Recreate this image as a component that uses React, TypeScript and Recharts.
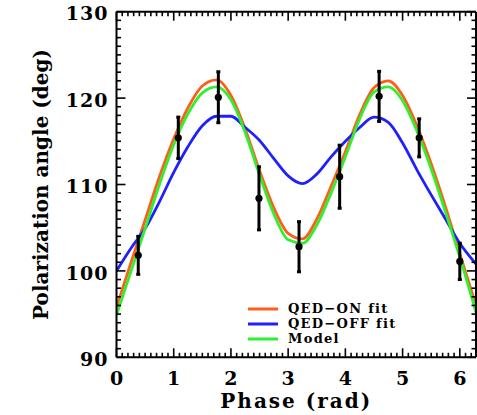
import React from 'react';
import { ComposedChart, Line, Scatter, ErrorBar, XAxis, YAxis, Legend } from 'recharts';

// model curves on a common phase grid (rad)
const phaseGrid = [0, 0.25, 0.5, 0.75, 1, 1.25, 1.5, 1.75, 2, 2.25, 2.5, 2.75, 3, 3.25, 3.5, 3.75, 4, 4.25, 4.5, 4.75, 5, 5.25, 5.5, 5.75, 6, 6.283];
const qedOnFit = [95.8, 100.9, 105.9, 110.9, 115.3, 118.9, 121.4, 122.1, 120.3, 116.4, 111.6, 107.3, 104.35, 103.7, 106.0, 109.8, 113.8, 118.1, 121.2, 122.0, 120.3, 116.8, 112.4, 107.4, 102.0, 96.0];
const qedOffFit = [100.0, 102.6, 104.9, 108.0, 111.4, 114.4, 116.8, 117.9, 117.9, 116.6, 115.1, 113.0, 111.0, 110.1, 111.2, 113.2, 115.0, 116.6, 117.8, 117.2, 114.8, 111.7, 108.8, 106.0, 103.2, 100.8];
const modelCurve = [94.9, 99.9, 104.9, 110.0, 114.6, 118.2, 120.6, 121.3, 119.8, 116.0, 111.1, 106.6, 103.6, 103.2, 105.3, 109.0, 113.2, 117.6, 120.7, 121.3, 119.7, 116.2, 111.8, 106.8, 101.6, 95.2];

// measured points
const obsPhase = [0.38, 1.08, 1.78, 2.49, 3.19, 3.9, 4.59, 5.29, 6.0];
const obsAngle = [101.8, 115.4, 120.1, 108.4, 102.8, 110.9, 120.2, 115.4, 101.1];
const obsError = [2.2, 2.4, 2.95, 3.65, 2.9, 3.65, 2.9, 2.2, 2.1];

const seriesNames = ['QED\u2212ON fit', 'QED\u2212OFF fit', 'Model'];
const seriesColors = ['#ff5e1a', '#1f1fff', '#2ef02e'];

const FONT = '"DejaVu Serif", serif';

const curveData = phaseGrid.map((phase, i) => ({
  phase,
  on: qedOnFit[i],
  off: qedOffFit[i],
  model: modelCurve[i],
}));
const obsData = obsPhase.map((phase, i) => ({ phase, angle: obsAngle[i], err: obsError[i] }));

// minor ticks every 0.1 rad / 1 deg, majors get labels
const xTicks = Array.from({ length: 63 }, (_, i) => i / 10);
const yTicks = Array.from({ length: 41 }, (_, i) => 90 + i);

const isMajorX = (v: number) => Math.abs(v - Math.round(v)) < 1e-6;
const isMajorY = (v: number) => Math.abs(v % 10) < 1e-6;

const makeTick = (side: string) => (props: any) => {
  const { x, y, payload } = props;
  const v = payload.value;
  const horiz = side === 'bottom' || side === 'top';
  const major = horiz ? isMajorX(v) : isMajorY(v);
  const len = major ? 9 : 4.5;
  let l = { x1: x, y1: y, x2: x, y2: y };
  if (side === 'bottom') l.y2 = y - len;
  if (side === 'top') l.y2 = y + len;
  if (side === 'left') l.x2 = x + len;
  if (side === 'right') l.x2 = x - len;
  let label = null;
  if (major && side === 'bottom') {
    label = (
      <text x={x} y={y + 14} dy="0.71em" textAnchor="middle" fontFamily={FONT} fontWeight="bold" fontSize={19} fill="#000">
        {Math.round(v)}
      </text>
    );
  }
  if (major && side === 'left') {
    label = (
      <text x={x - 8} y={y + 2} dy="0.355em" textAnchor="end" fontFamily={FONT} fontWeight="bold" fontSize={19} letterSpacing={1} fill="#000">
        {Math.round(v)}
      </text>
    );
  }
  return (
    <g>
      <line {...l} stroke="#000" strokeWidth={1.6} />
      {label}
    </g>
  );
};

// legend keeps the series order of the original plot
const renderLegend = () => (
  <div style={{ fontFamily: FONT, fontWeight: 'bold', fontSize: 13, letterSpacing: 1.3 }}>
    {seriesNames.map((name, i) => (
      <div key={name} style={{ display: 'flex', alignItems: 'center', height: 15 }}>
        <svg width={30} height={4} style={{ marginRight: 10 }}>
          <line x1={0} y1={2} x2={30} y2={2} stroke={seriesColors[i]} strokeWidth={3} />
        </svg>
        <span style={{ lineHeight: '15px' }}>{name}</span>
      </div>
    ))}
  </div>
);

const xTitle = (p: any) => {
  const vb = p.viewBox;
  return (
    <text x={vb.x + vb.width / 2} y={vb.y + 51} textAnchor="middle" fontFamily={FONT} fontWeight="bold" fontSize={20} letterSpacing={2} fill="#000">
      Phase (rad)
    </text>
  );
};

const yTitle = (p: any) => {
  const vb = p.viewBox;
  const cx = 48;
  const cy = vb.y + vb.height / 2;
  return (
    <text x={cx} y={cy} transform={`rotate(-90 ${cx} ${cy})`} textAnchor="middle" fontFamily={FONT} fontWeight="bold" fontSize={20} fill="#000">
      Polarization angle (deg)
    </text>
  );
};

export default function App() {
  return (
    <div style={{ position: 'absolute', left: 0, top: 0, background: '#fff' }}>
      <ComposedChart width={477} height={415} data={curveData} margin={{ top: 10.7, right: 0, bottom: 56.7, left: 115.5 }}>
        <XAxis xAxisId="b" dataKey="phase" type="number" domain={[0, 6.283]} ticks={xTicks} interval={0} height={1}
          tickSize={0} tickMargin={0} tickLine={false} tick={makeTick('bottom')} axisLine={{ stroke: '#000', strokeWidth: 2 }}
          label={{ content: xTitle }} allowDataOverflow />
        <XAxis xAxisId="t" orientation="top" dataKey="phase" type="number" domain={[0, 6.283]} ticks={xTicks} interval={0} height={1}
          tickSize={0} tickMargin={0} tickLine={false} tick={makeTick('top')} axisLine={{ stroke: '#000', strokeWidth: 2 }} allowDataOverflow />
        <YAxis yAxisId="l" type="number" domain={[90, 130]} ticks={yTicks} interval={0} width={1}
          tickSize={0} tickMargin={0} tickLine={false} tick={makeTick('left')} axisLine={{ stroke: '#000', strokeWidth: 2 }}
          label={{ content: yTitle }} allowDataOverflow />
        <YAxis yAxisId="r" orientation="right" type="number" domain={[90, 130]} ticks={yTicks} interval={0} width={1}
          tickSize={0} tickMargin={0} tickLine={false} tick={makeTick('right')} axisLine={{ stroke: '#000', strokeWidth: 2 }} allowDataOverflow />
        <Line xAxisId="b" yAxisId="l" type="monotone" dataKey="on" name={seriesNames[0]} stroke={seriesColors[0]} strokeWidth={2.8} dot={false} activeDot={false} isAnimationActive={false} />
        <Line xAxisId="b" yAxisId="l" type="monotone" dataKey="off" name={seriesNames[1]} stroke={seriesColors[1]} strokeWidth={2.8} dot={false} activeDot={false} isAnimationActive={false} />
        <Line xAxisId="b" yAxisId="l" type="monotone" dataKey="model" name={seriesNames[2]} stroke={seriesColors[2]} strokeWidth={2.8} dot={false} activeDot={false} isAnimationActive={false} />
        <Scatter xAxisId="b" yAxisId="l" data={obsData} dataKey="angle" legendType="none" isAnimationActive={false}
          shape={(p: any) => <circle cx={p.cx} cy={p.cy} r={3.6} fill="#000" />}>
          <ErrorBar dataKey="err" direction="y" width={2} strokeWidth={3} stroke="#000" isAnimationActive={false} />
        </Scatter>
        <Legend content={renderLegend} layout="vertical" align="center" verticalAlign="middle"
          wrapperStyle={{ left: 248, top: 301, width: 'auto' }} />
      </ComposedChart>
    </div>
  );
}
